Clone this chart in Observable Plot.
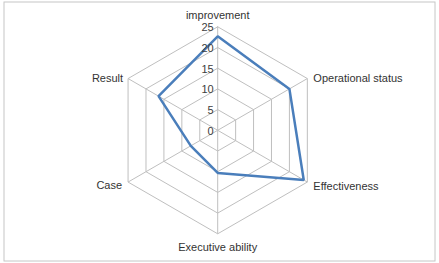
<!DOCTYPE html>
<html>
<head>
<meta charset="utf-8">
<script src="https://cdn.jsdelivr.net/npm/d3@7"></script>
<script src="https://cdn.jsdelivr.net/npm/@observablehq/plot@0.6"></script>
<style>
  html, body { margin: 0; padding: 0; background: #fff; }
  #chart { width: 439px; height: 263px; }
</style>
</head>
<body>
<div id="chart"></div>
<script>
const categories = ["improvement", "Operational status", "Effectiveness", "Executive ability", "Case", "Result"];
const values = [22.7, 20, 24, 10.3, 7.5, 16.5];
const tickValues = [0, 5, 10, 15, 20, 25];
const tickLabels = ["0", "5", "10", "15", "20", "25"];
const maxValue = 25;

const n = categories.length;
const angleOf = i => Math.PI / 2 - i * 2 * Math.PI / n;
const px = (i, r) => r * Math.cos(angleOf(i));
const py = (i, r) => r * Math.sin(angleOf(i));

// grid rings (closed hexagons)
const gridRings = [];
tickValues.filter(t => t > 0).forEach(t => {
  for (let i = 0; i <= n; i++) gridRings.push({level: t, x: px(i % n, t), y: py(i % n, t)});
});
const spokes = categories.map((c, i) => ({x1: 0, y1: 0, x2: px(i, maxValue), y2: py(i, maxValue)}));
const series = categories.map((c, i) => ({cat: c, x: px(i, values[i]), y: py(i, values[i])}));
const ticks = tickValues.map((t, k) => ({label: tickLabels[k], x: 0, y: t}));

// label placement per axis (anchor + offsets)
const labelStyle = [
  {anchor: "middle", dx: 0, dy: -11},
  {anchor: "start", dx: 6, dy: 0},
  {anchor: "start", dx: 6, dy: 4},
  {anchor: "middle", dx: 0, dy: 14},
  {anchor: "end", dx: -6, dy: 3},
  {anchor: "end", dx: -5, dy: 0}
];
const axisLabels = categories.map((c, i) => ({cat: c, x: px(i, maxValue), y: py(i, maxValue), ...labelStyle[i]}));

const W = 439, H = 263;
const cx = 217.2, cy = 129.8, pxPerUnit = 103.5 / maxValue;

const font = "Liberation Sans, Arial, sans-serif";
const plot = Plot.plot({
  width: W,
  height: H,
  margin: 0,
  x: {domain: [-cx / pxPerUnit, (W - cx) / pxPerUnit], axis: null},
  y: {domain: [-(H - cy) / pxPerUnit, cy / pxPerUnit], axis: null},
  style: {fontFamily: font, background: "#fff"},
  marks: [
    Plot.frame({stroke: "#c6c6c6", insetLeft: 3.5, insetTop: 1.5, insetRight: 4.5, insetBottom: 2.5}),
    Plot.line(gridRings, {x: "x", y: "y", z: "level", stroke: "#bfbfbf", strokeWidth: 1}),
    Plot.link(spokes, {x1: "x1", y1: "y1", x2: "x2", y2: "y2", stroke: "#bfbfbf", strokeWidth: 1}),
    Plot.line(series, {x: "x", y: "y", curve: "linear-closed", stroke: "#4a7ebb", strokeWidth: 2.5, strokeLinejoin: "miter"}),
    Plot.text(ticks, {x: "x", y: "y", text: "label", textAnchor: "end", dx: -4, dy: 1, fontSize: 11, fill: "#404040"}),
    ...labelStyle.map((s, i) => Plot.text([axisLabels[i]], {x: "x", y: "y", text: "cat", textAnchor: s.anchor, dx: s.dx, dy: s.dy, fontSize: 11, fill: "#333"}))
  ]
});
document.getElementById("chart").appendChild(plot);
</script>
</body>
</html>
